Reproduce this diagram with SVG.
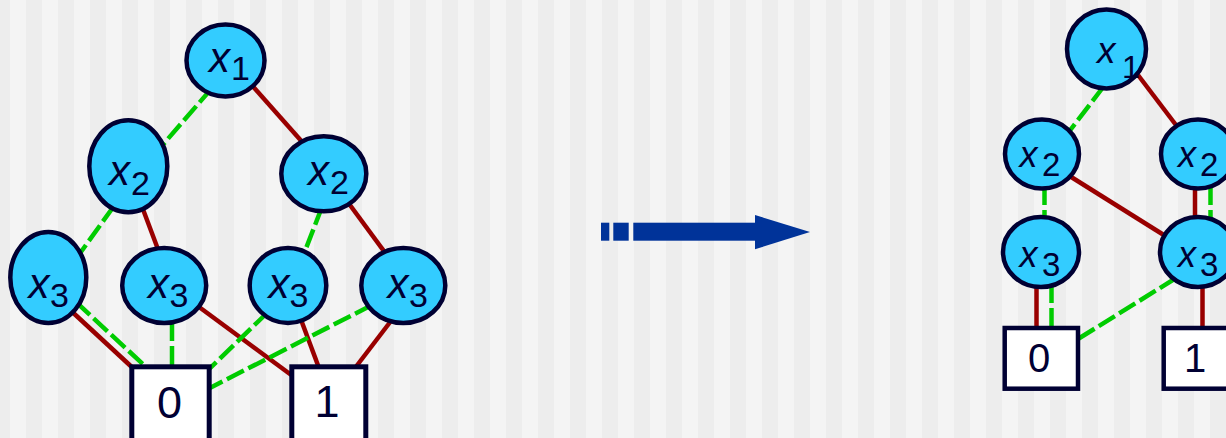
<svg xmlns="http://www.w3.org/2000/svg" width="1226" height="438" viewBox="0 0 1226 438">
<style>
.node{fill:#33ccff;stroke:#000033;stroke-width:4.5}
.box{fill:#ffffff;stroke:#000033;stroke-width:5}
.hi{stroke:#990000;stroke-width:4.5;fill:none}
.lo{stroke:#00cc00;stroke-width:4.5;fill:none;stroke-dasharray:19,5}
.v{font-family:"Liberation Sans",Arial,sans-serif;font-style:italic;fill:#000033}
.s{font-family:"Liberation Sans",Arial,sans-serif;fill:#000033}
.t{font-family:"Liberation Sans",Arial,sans-serif;fill:#000033;text-anchor:middle}
</style>
<defs>
<pattern id="stripes" patternUnits="userSpaceOnUse" x="-6" y="0" width="32" height="438">
<rect x="0" y="0" width="16" height="438" fill="#ededed"/>
<rect x="16" y="0" width="16" height="438" fill="#f4f4f4"/>
</pattern>
</defs>
<rect x="0" y="0" width="1226" height="438" fill="url(#stripes)"/>

<g id="connectors">
<line class="lo" x1="212" y1="88" x2="160" y2="148"/>
<line class="hi" x1="249" y1="82" x2="304" y2="144"/>
<line class="lo" x1="114" y1="206" x2="78" y2="256"/>
<line class="hi" x1="141" y1="204" x2="159" y2="252"/>
<line class="lo" x1="322" y1="207" x2="305" y2="251"/>
<line class="hi" x1="347" y1="201" x2="389" y2="258"/>
<line class="hi" x1="68" y1="308" x2="135" y2="370"/>
<line class="lo" x1="76" y1="302" x2="147" y2="368"/>
<line class="lo" x1="172" y1="322" x2="172" y2="368"/>
<line class="hi" x1="195" y1="304" x2="294" y2="377"/>
<line class="lo" x1="268" y1="312" x2="204" y2="374"/>
<line class="hi" x1="300" y1="317" x2="319" y2="368"/>
<line class="lo" x1="372" y1="305" x2="204" y2="391"/>
<line class="hi" x1="394" y1="317" x2="355" y2="368"/>

<line class="lo" x1="1104" y1="86" x2="1068" y2="133"/>
<line class="hi" x1="1138" y1="75" x2="1179" y2="129"/>
<line class="lo" x1="1044.5" y1="186" x2="1044.5" y2="220"/>
<line class="hi" x1="1068" y1="175" x2="1167" y2="237"/>
<line class="hi" x1="1195" y1="186" x2="1195" y2="220"/>
<line class="lo" x1="1210.5" y1="186" x2="1210.5" y2="220"/>
<line class="hi" x1="1036.5" y1="284" x2="1036.5" y2="328"/>
<line class="lo" x1="1051.5" y1="284" x2="1051.5" y2="328"/>
<line class="lo" x1="1176" y1="278" x2="1078" y2="339"/>
<line class="hi" x1="1202.5" y1="284" x2="1202.5" y2="328"/>
</g>

<g id="arrow" fill="#003399">
<rect x="601" y="222.7" width="8.3" height="18"/>
<rect x="613.3" y="222.7" width="15.4" height="18"/>
<rect x="633.3" y="222.7" width="122" height="18"/>
<polygon points="755,215 810,232 755,249.3"/>
</g>

<g id="L_x1"><ellipse class="node" cx="225.5" cy="60.5" rx="39" ry="36"/><text class="v" x="209" y="71.7" font-size="42">x</text><text class="s" x="231" y="80" font-size="34">1</text></g>
<g id="L_x2a"><ellipse class="node" cx="128.3" cy="166.3" rx="39" ry="46"/><text class="v" x="109" y="185" font-size="42">x</text><text class="s" x="131" y="195" font-size="34">2</text></g>
<g id="L_x2b"><ellipse class="node" cx="323.8" cy="173.8" rx="42.5" ry="37.5"/><text class="v" x="308" y="185" font-size="42">x</text><text class="s" x="330" y="194.3" font-size="34">2</text></g>
<g id="L_x3a"><ellipse class="node" cx="48.3" cy="277.5" rx="38" ry="45.5"/><text class="v" x="28.5" y="298.3" font-size="42">x</text><text class="s" x="50" y="306.7" font-size="34">3</text></g>
<g id="L_x3b"><ellipse class="node" cx="164.2" cy="285.5" rx="42" ry="37.5"/><text class="v" x="148" y="298.3" font-size="42">x</text><text class="s" x="169.5" y="306.7" font-size="34">3</text></g>
<g id="L_x3c"><ellipse class="node" cx="288" cy="285.5" rx="38.3" ry="37.5"/><text class="v" x="268.5" y="298.3" font-size="42">x</text><text class="s" x="289.5" y="306.7" font-size="34">3</text></g>
<g id="L_x3d"><ellipse class="node" cx="403.3" cy="285.5" rx="42" ry="37.5"/><text class="v" x="387.5" y="298.3" font-size="42">x</text><text class="s" x="409" y="306.7" font-size="34">3</text></g>
<g id="L_0"><rect class="box" x="131.8" y="366.8" width="77.4" height="80"/><text class="t" x="169.5" y="417.7" font-size="45">0</text></g>
<g id="L_1"><rect class="box" x="291.8" y="366.8" width="74" height="80"/><text class="t" x="327" y="417" font-size="45">1</text></g>

<g id="R_x1"><ellipse class="node" cx="1106.5" cy="49" rx="39.5" ry="39.5"/><text class="v" x="1097" y="63.3" font-size="37">x</text><text class="s" x="1122" y="78" font-size="32">1</text></g>
<g id="R_x2a"><ellipse class="node" cx="1042" cy="154" rx="37" ry="34.5"/><text class="v" x="1019.5" y="166.7" font-size="36">x</text><text class="s" x="1042" y="176" font-size="33">2</text></g>
<g id="R_x2b"><ellipse class="node" cx="1198" cy="154" rx="37" ry="34.5"/><text class="v" x="1178" y="166.7" font-size="36">x</text><text class="s" x="1200" y="176" font-size="33">2</text></g>
<g id="R_x3a"><ellipse class="node" cx="1041" cy="252" rx="38" ry="35"/><text class="v" x="1019.5" y="266.7" font-size="36">x</text><text class="s" x="1042" y="276" font-size="33">3</text></g>
<g id="R_x3b"><ellipse class="node" cx="1198" cy="252" rx="38" ry="35"/><text class="v" x="1178" y="266.7" font-size="36">x</text><text class="s" x="1200" y="276" font-size="33">3</text></g>
<g id="R_0"><rect class="box" x="1004.7" y="328" width="73.3" height="60.7" style="stroke-width:4.5"/><text class="t" x="1039" y="371.7" font-size="40">0</text></g>
<g id="R_1"><rect class="box" x="1163.7" y="328" width="73.3" height="60.7" style="stroke-width:4.5"/><text class="t" x="1195" y="371.7" font-size="40">1</text></g>
</svg>
